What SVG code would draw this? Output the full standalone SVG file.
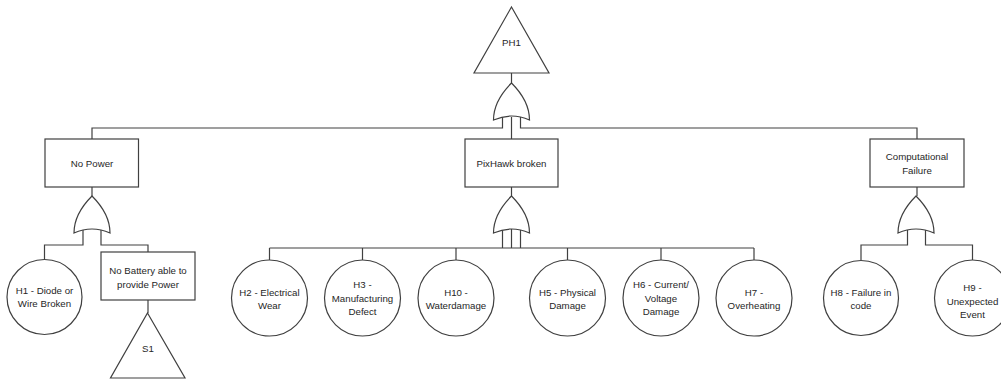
<svg xmlns="http://www.w3.org/2000/svg" width="1001" height="380" viewBox="0 0 1001 380">
<style>
.s{fill:#fff;stroke:#404040;stroke-width:1.2}
.c{fill:none;stroke:#404040;stroke-width:1.2}
text{font-family:"Liberation Sans",Arial,sans-serif;font-size:9.7px;fill:#262626;text-anchor:middle}
</style>
<defs>
<path id="or" d="M0,0 C-7,7 -18,19 -18,37 Q0,29 18,37 C18,19 7,7 0,0 Z"/>
</defs>
<rect width="1001" height="380" fill="#fff"/>
<g id="connectors" class="c">
<path d="M511.5,73 V83"/>
<path d="M502.5,116 V128 H92 V139"/>
<path d="M520.5,116 V128 H917 V139"/>
<path d="M511.5,117 V139"/>
<path d="M92,187 V196"/>
<path d="M511.5,187 V196"/>
<path d="M917,187 V196"/>
<path d="M83,230 V245 H44.5 V259"/>
<path d="M101,230 V245 H148 V252"/>
<path d="M148,300 V313"/>
<path d="M502.5,230 V248"/>
<path d="M511.5,229 V248"/>
<path d="M520.5,230 V248"/>
<path d="M269.5,248 H754 M269.5,248 V260 M362.5,248 V260 M456,248 V260 M567.5,248 V260 M661,248 V260 M754,248 V260"/>
<path d="M907.5,230 V245 H861 V260"/>
<path d="M925.5,230 V245 H972.5 V260"/>
</g>
<g id="PH1"><path class="s" d="M511.5,7 L549,73 L474,73 Z"/><text x="511.5" y="46">PH1</text></g>
<g id="gate_top"><use href="#or" class="s" x="511.5" y="83"/></g>
<g id="NoPower"><rect class="s" x="45" y="139" width="93.5" height="48"/><text x="92" y="166.5">No Power</text></g>
<g id="PixHawk"><rect class="s" x="465" y="139" width="93" height="48"/><text x="511.5" y="166.5">PixHawk broken</text></g>
<g id="Computational"><rect class="s" x="870" y="139" width="94" height="48"/><text x="917" y="160">Computational</text><text x="917" y="173.5">Failure</text></g>
<g id="gate_nopower"><use href="#or" class="s" x="92" y="196"/></g>
<g id="gate_pixhawk"><use href="#or" class="s" x="511.5" y="196"/></g>
<g id="gate_comp"><use href="#or" class="s" x="916" y="196"/></g>
<g id="NoBattery"><rect class="s" x="101" y="252" width="94" height="48"/><text x="148" y="274">No Battery able to</text><text x="148" y="287.5">provide Power</text></g>
<g id="S1"><path class="s" d="M147.5,313 L185,378 L110.5,378 Z"/><text x="148" y="352">S1</text></g>
<g id="H1"><circle class="s" cx="44.5" cy="297" r="37.5"/><text x="44.5" y="294">H1 - Diode or</text><text x="44.5" y="307">Wire Broken</text></g>
<g id="H2"><circle class="s" cx="269.5" cy="298" r="38"/><text x="269.5" y="296">H2 - Electrical</text><text x="269.5" y="309">Wear</text></g>
<g id="H3"><circle class="s" cx="362.5" cy="298" r="38"/><text x="362.5" y="288">H3 -</text><text x="362.5" y="301.5">Manufacturing</text><text x="362.5" y="315">Defect</text></g>
<g id="H10"><circle class="s" cx="456" cy="298" r="38"/><text x="456" y="296">H10 -</text><text x="456" y="309">Waterdamage</text></g>
<g id="H5"><circle class="s" cx="567.5" cy="298" r="38"/><text x="567.5" y="296">H5 - Physical</text><text x="567.5" y="309">Damage</text></g>
<g id="H6"><circle class="s" cx="661" cy="298" r="38"/><text x="661" y="288">H6 - Current/</text><text x="661" y="301.5">Voltage</text><text x="661" y="315">Damage</text></g>
<g id="H7"><circle class="s" cx="754" cy="298" r="38"/><text x="754" y="296">H7 -</text><text x="754" y="309">Overheating</text></g>
<g id="H8"><circle class="s" cx="861" cy="298" r="37.5"/><text x="861" y="296">H8 - Failure in</text><text x="861" y="309">code</text></g>
<g id="H9"><circle class="s" cx="972.5" cy="298" r="38"/><text x="972.5" y="291">H9 -</text><text x="972.5" y="304.5">Unexpected</text><text x="972.5" y="318">Event</text></g>
</svg>
